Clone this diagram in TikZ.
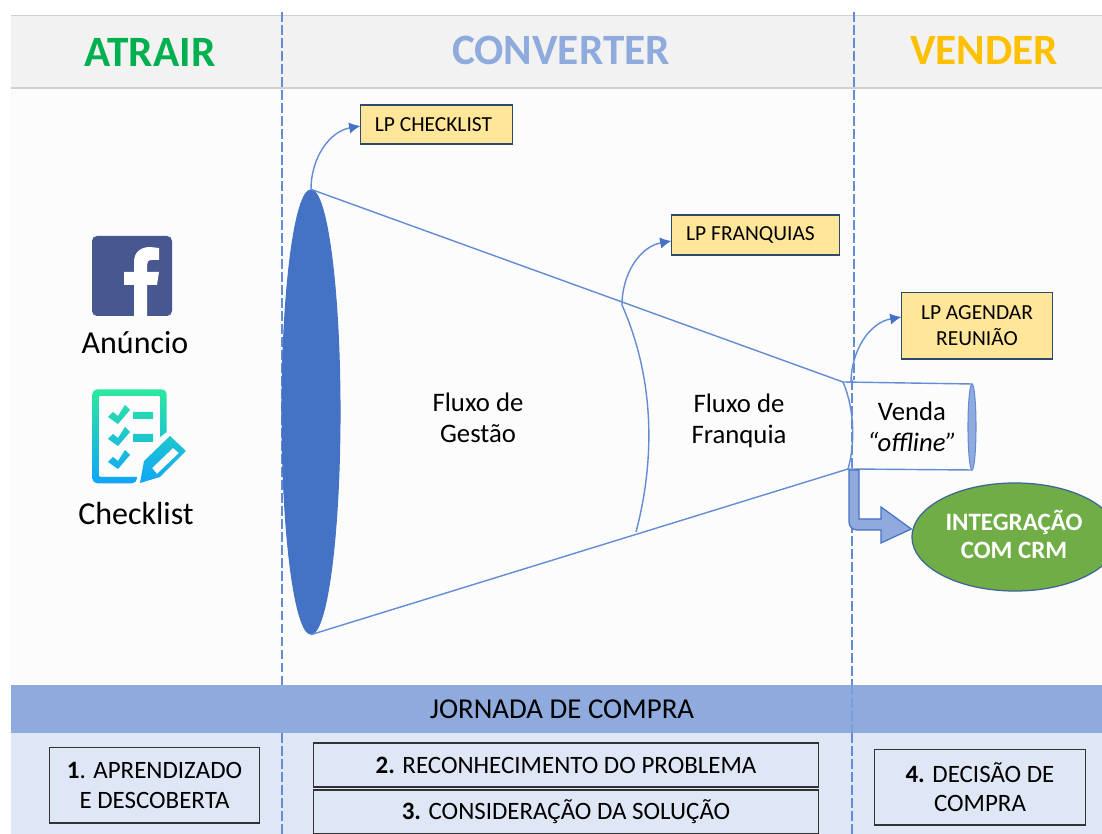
\documentclass[tikz,border=0pt]{standalone}
\usepackage{fontspec}
\setmainfont{Carlito}
\usepackage{tikz}
\usetikzlibrary{arrows.meta, shapes.geometric, calc}
\definecolor{headbg}{RGB}{242, 242, 242}
\definecolor{headrule}{RGB}{208, 208, 208}
\definecolor{bodybg}{RGB}{252, 252, 252}
\definecolor{band}{RGB}{143, 170, 220}
\definecolor{lowbg}{RGB}{223, 230, 245}
\definecolor{flow}{RGB}{68, 114, 196}
\definecolor{flowsoft}{RGB}{100, 140, 212}
\definecolor{note}{RGB}{255, 230, 153}
\definecolor{noteedge}{RGB}{47, 72, 110}
\definecolor{boxedge}{RGB}{50, 50, 50}
\definecolor{crmgreen}{RGB}{112, 173, 71}
\definecolor{crmedge}{RGB}{60, 100, 150}
\definecolor{fblue}{RGB}{71, 87, 143}
\definecolor{ticktop}{RGB}{44, 232, 160}
\definecolor{tickbot}{RGB}{16, 165, 248}
\definecolor{atrair}{RGB}{0, 176, 80}
\definecolor{vender}{RGB}{255, 192, 0}

\tikzset{
  pagetext/.style={font=\fontsize{9.1}{11}\selectfont, align=center, inner sep=0},
  flowtext/.style={font=\fontsize{7.6}{8.8}\selectfont, align=center, inner sep=0},
  headtext/.style={font=\fontsize{12.3}{14}\selectfont\bfseries, inner sep=0},
  notebox/.style={draw=noteedge, fill=note, line width=0.3pt, align=center, inner sep=0,
    font=\fontsize{6.1}{7.4}\selectfont},
  stagebox/.style={draw=boxedge, line width=0.3pt, align=center, inner sep=0,
    font=\fontsize{7.1}{8.3}\selectfont},
  guide/.style={flowsoft, line width=0.3pt, dash pattern=on 2.8pt off 0.9pt},
  flowline/.style={flowsoft, line width=0.4pt},
  flowarrow/.style={flowsoft, line width=0.4pt, -{Latex[length=3.2pt, width=3.2pt, color=flow]}},
}

\begin{document}
\begin{tikzpicture}[x=0.01cm, y=-0.01cm]
  \clip (0, 0) rectangle (1102, 834);
  \fill[white] (0, 0) rectangle (1102, 834);

  % Backgrounds
  \fill[bodybg] (11, 88) rectangle (1102, 685);
  \fill[headbg] (11, 15) rectangle (1102, 88);
  \draw[headrule, line width=0.4pt] (11, 15.5) -- (1102, 15.5);
  \draw[headrule, line width=0.4pt] (11, 88) -- (1102, 88);
  \fill[lowbg] (11, 733) rectangle (1102, 834);

  % Column guides
  \draw[guide] (282, 12) -- (282, 685);
  \fill[band] (11, 685) rectangle (1102, 733);
  \draw[guide] (282, 733) -- (282, 834);
  \draw[guide] (854, 12) -- (854, 380);
  \draw[guide] (852, 380) -- (852, 685);
  \draw[guide, flowsoft!45!band] (852, 685) -- (852, 733);
  \draw[guide] (852, 733) -- (852, 834);

  \node[headtext, text=atrair] (atrair) at (150, 52) {ATRAIR};
  \node[headtext, text=band] (converter) at (561, 50) {CONVERTER};
  \node[headtext, text=vender] (vender) at (984, 50) {VENDER};

  % Facebook icon
  \fill[fblue, rounded corners=0.05cm] (92, 236) rectangle (172, 316);
  \fill[white] (134, 316) -- (134, 285) -- (124, 285) -- (124, 272) -- (134, 272)
    -- (134, 262) .. controls (134, 252) and (141, 247) .. (150, 247) -- (159, 248)
    -- (159, 260) -- (152, 260) .. controls (148, 260) and (147, 262) .. (147, 265)
    -- (147, 272) -- (159, 272) -- (157, 285) -- (147, 285) -- (147, 316) -- cycle;
  \node[pagetext] (anuncio) at (135, 343) {Anúncio};

  % Checklist icon
  \shade[top color=ticktop, bottom color=tickbot, even odd rule]
    [rounded corners=0.05cm] (166.7, 432) -- (166.7, 389.3) -- (92.3, 389.3) -- (92.3, 483.3)
      -- (137, 483.3) [sharp corners] -- (137, 476.8) [rounded corners=0.02cm] -- (98.8, 476.8) -- (98.8, 395.8)
      -- (160.2, 395.8) [sharp corners] -- (160.2, 437) -- cycle
    (133, 412) rectangle (153, 419)
    (133, 434) rectangle (153, 442)
    \foreach \dy in {0, 22, 45} {
      (108, 417 + \dy) -- (113, 412 + \dy) -- (118, 416 + \dy) -- (125, 405 + \dy)
        -- (130, 410 + \dy) -- (118, 424 + \dy) -- cycle
    }
    (140, 483) -- (144, 461) -- (170, 436) -- (186, 451) -- (160, 477) -- cycle
    (152, 468) -- (173, 448) -- (179, 453) -- (157, 474) -- cycle;
  \node[pagetext] (checklist) at (136, 514) {Checklist};

  % Funnel
  \node[ellipse, draw=flow, fill=flow, line width=0.3pt, minimum width=0.58cm, minimum height=4.44cm,
    inner sep=0] (mouth) at (311, 412) {};
  \coordinate (neckt) at (843, 382);
  \coordinate (neckb) at (848, 469);
  \coordinate (bendt) at (622, 305);
  \coordinate (bendb) at (636, 532);
  \coordinate (cylt) at (972, 384);
  \coordinate (cylb) at (972, 470);
  \draw[flowline] (mouth.north) -- (neckt);
  \draw[flowline] (mouth.south) -- (neckb);
  \draw[flowline] (bendt) .. controls (655, 380) and (655, 460) .. (bendb);
  \draw[flowline] (neckt) .. controls (855, 410) and (855, 445) .. (neckb);
  \draw[flowline] (neckt) -- (cylt);
  \draw[flowline] (neckb) -- (cylb);
  \node[ellipse, draw=flowsoft, fill=band, line width=0.3pt, minimum width=0.08cm, minimum height=0.86cm,
    inner sep=0] (cylend) at (972, 427) {};

  \node[flowtext] (gestao) at (478, 418) {Fluxo de\\Gestão};
  \node[flowtext] (franquia) at (739, 421) {Fluxo de\\Franquia};
  \node[flowtext] (venda) at (912, 427) {Venda\\\textit{“offline”}};

  % Landing pages
  \node[notebox, minimum width=1.51cm, minimum height=0.39cm] (lpchecklist) at (436.5, 124.5) {LP CHECKLIST\hspace{0.06cm}};
  \node[notebox, minimum width=1.67cm, minimum height=0.40cm] (lpfranquias) at (755.5, 235) {LP FRANQUIAS\hspace{0.1cm}};
  \node[notebox, minimum width=1.50cm, minimum height=0.66cm] (lpagendar) at (977, 326) {LP AGENDAR\\REUNIÃO};
  \coordinate (neckup) at (851, 383);
  \draw[flowarrow] (mouth.north) to[out=90, in=190] ([yshift=-0.015cm]lpchecklist.west);
  \draw[flowarrow] (bendt) to[out=90, in=190] ([yshift=-0.06cm]lpfranquias.west);
  \draw[flowarrow] (neckup) to[out=90, in=190] ([yshift=0.09cm]lpagendar.west);

  % CRM
  \node[ellipse, draw=crmedge, fill=crmgreen, line width=0.35pt, minimum width=2.06cm, minimum height=1.08cm,
    inner sep=0] (crm) at (1015, 537) {};
  \node[align=center, inner sep=0, text=white, font=\fontsize{7.1}{8}\selectfont\bfseries] (crmtext) at (1014, 534) {INTEGRAÇÃO\\COM CRM};
  \coordinate (shaft) at (849, 470);
  \draw[flow, fill=band, line width=0.35pt] (shaft) [rounded corners=0.08cm] -- ++(0, 60)
    [sharp corners] -- ++(32, 0) -- ++(0, 13) -- ([yshift=0.08cm]crm.west) -- (881, 507) -- ++(0, 12)
    -- (859, 519) -- (859, 470) -- cycle;

  % Buying journey
  \node[inner sep=0, font=\fontsize{8.2}{10}\selectfont] (jornada) at (562, 709) {JORNADA DE COMPRA};
  \node[stagebox, minimum width=2.10cm, minimum height=0.75cm] (aprendizado) at (154.5, 785.5) {\textbf{1}. APRENDIZADO\\E DESCOBERTA};
  \node[stagebox, minimum width=5.04cm, minimum height=0.44cm] (reconhecimento) at (566, 765) {\textbf{2.} RECONHECIMENTO DO PROBLEMA};
  \node[stagebox, minimum width=5.04cm, minimum height=0.44cm] (consideracao) at (566, 812) {\textbf{3.} CONSIDERAÇÃO DA SOLUÇÃO};
  \node[stagebox, minimum width=2.10cm, minimum height=0.75cm] (decisao) at (980, 787.5) {\textbf{4.} DECISÃO DE\\COMPRA};
\end{tikzpicture}
\end{document}
